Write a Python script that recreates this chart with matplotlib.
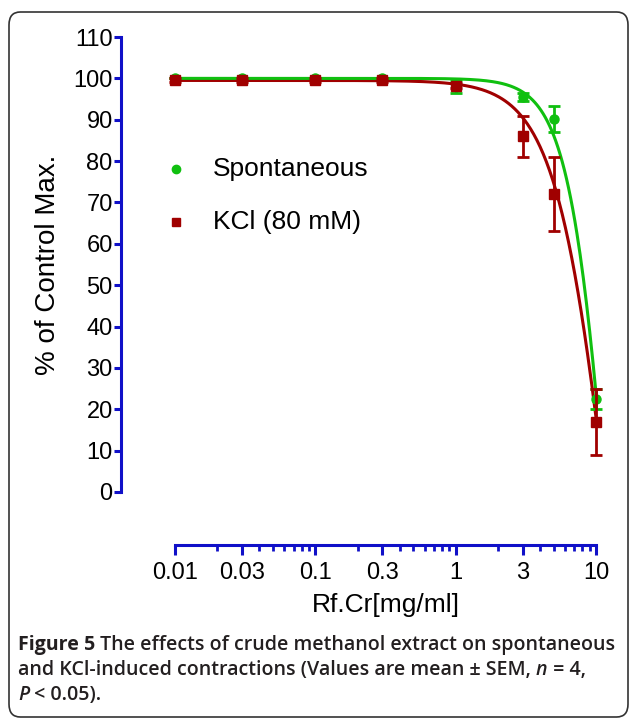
import numpy as np
import matplotlib
matplotlib.use("Agg")
import matplotlib.pyplot as plt
from matplotlib.patches import FancyBboxPatch
from matplotlib.ticker import FixedLocator, FixedFormatter

# ---- data ----
conc = [0.01, 0.03, 0.1, 0.3, 1, 3, 5, 10]
spont_mean = [100.0, 100.0, 100.0, 100.0, 98.0, 95.5, 90.2, 22.5]
spont_sem = [0.0, 0.0, 0.0, 0.0, 1.6, 1.0, 3.2, 2.5]
kcl_mean = [99.6, 99.6, 99.6, 99.6, 98.2, 86.0, 72.0, 17.0]
kcl_sem = [0.5, 0.5, 0.5, 0.5, 0.6, 5.0, 9.0, 8.0]
# fitted sigmoid parameters (top, bottom, IC50, hill)
spont_fit = (100.0, -150.0, 13.3, 2.9)
kcl_fit = (99.5, -150.0, 14.05, 2.13)

xticks = [0.01, 0.03, 0.1, 0.3, 1, 3, 10]
xticklabels = ["0.01", "0.03", "0.1", "0.3", "1", "3", "10"]
xminor = [0.02, 0.04, 0.05, 0.06, 0.07, 0.08, 0.09,
          0.2, 0.4, 0.5, 0.6, 0.7, 0.8, 0.9,
          2, 4, 5, 6, 7, 8, 9]
yticks = list(range(0, 111, 10))

GREEN = "#10c010"
RED = "#a00000"
BLUE = "#1010c8"

W, H = 629, 718
fig = plt.figure(figsize=(W / 100, H / 100), dpi=100)
plt.rcParams["font.family"] = ["Liberation Sans", "DejaVu Sans"]

# rounded frame
frame = FancyBboxPatch((9 / W, 1 - 717 / H), (628 - 9) / W, (717 - 12) / H,
                       boxstyle="round,pad=0,rounding_size=0.018",
                       transform=fig.transFigure, facecolor="none",
                       edgecolor="#333333", linewidth=1.2, clip_on=False)
fig.patches.append(frame)

x0, x1 = 175, 596
y0, y1 = 37, 492
ax = fig.add_axes([x0 / W, 1 - y1 / H, (x1 - x0) / W, (y1 - y0) / H])
ax.set_xscale("log")
ax.set_xlim(0.01, 10)
ax.set_ylim(0, 110)
for s in ["top", "right"]:
    ax.spines[s].set_visible(False)
ax.spines["left"].set_position(("outward", 54 * 0.72))
ax.spines["bottom"].set_position(("outward", 53 * 0.72))
for s in ["left", "bottom"]:
    ax.spines[s].set_color(BLUE)
    ax.spines[s].set_linewidth(2.2)
ax.spines["left"].set_bounds(0, 110)
ax.spines["bottom"].set_bounds(0.01, 10)

ax.yaxis.set_major_locator(FixedLocator(yticks))
ax.set_yticklabels([str(v) for v in yticks])
ax.xaxis.set_major_locator(FixedLocator(xticks))
ax.xaxis.set_major_formatter(FixedFormatter(xticklabels))
ax.xaxis.set_minor_locator(FixedLocator(xminor))
ax.xaxis.set_minor_formatter(FixedFormatter([""] * len(xminor)))
ax.tick_params(axis="y", which="major", length=5, width=2.2, color=BLUE,
               labelsize=17, pad=1)
ax.tick_params(axis="x", which="major", length=7, width=2.2, color=BLUE,
               labelsize=17, pad=5)
ax.tick_params(axis="x", which="minor", length=4, width=2.0, color=BLUE)

ax.set_ylabel("% of Control Max.", fontsize=20, labelpad=9)
ax.set_xlabel("Rf.Cr[mg/ml]", fontsize=19, labelpad=7)


def sig(x, p):
    top, bot, ic50, h = p
    return bot + (top - bot) / (1 + (x / ic50) ** h)


xs = np.logspace(-2, 1, 400)
ax.plot(xs, sig(xs, kcl_fit), color=RED, lw=2.2, zorder=2, clip_on=False)
ax.plot(xs, sig(xs, spont_fit), color=GREEN, lw=2.2, zorder=3, clip_on=False)

e1 = ax.errorbar(conc, spont_mean, yerr=spont_sem, fmt="o", color=GREEN,
                 ms=6.5, elinewidth=2.0, capsize=4.5, capthick=2.0, zorder=4,
                 clip_on=False)
e2 = ax.errorbar(conc, kcl_mean, yerr=kcl_sem, fmt="s", color=RED,
                 ms=6.5, elinewidth=2.0, capsize=4.5, capthick=2.0, zorder=5,
                 clip_on=False)
for e in (e1, e2):
    for c in e[1]:
        c.set_clip_on(False)
    for c in e[2]:
        c.set_clip_on(False)

# legend (manual, to match position)
fig.lines.append(plt.Line2D([176 / W], [1 - 169 / H], marker="o", ls="none",
                            color=GREEN, ms=6, transform=fig.transFigure))
fig.lines.append(plt.Line2D([176 / W], [1 - 222 / H], marker="s", ls="none",
                            color=RED, ms=6, transform=fig.transFigure))
fig.text(213 / W, 1 - 169 / H, "Spontaneous", fontsize=19, va="center",
         ha="left")
fig.text(213 / W, 1 - 222 / H, "KCl (80 mM)", fontsize=19, va="center",
         ha="left")

# caption
cap_font = ["Open Sans", "DejaVu Sans"]
csize = 14.1
ccol = "#231f20"
lines = [
    [("Figure 5", "bold", "normal"),
     (" The effects of crude methanol extract on spontaneous", "semibold", "normal")],
    [("and KCl-induced contractions (Values are mean \u00b1 SEM, ", "semibold", "normal"),
     ("n", "semibold", "italic"), (" = 4,", "semibold", "normal")],
    [("P", "semibold", "italic"), (" < 0.05).", "semibold", "normal")],
]
fig.canvas.draw()
r = fig.canvas.get_renderer()
ys = [645, 670, 695]
for line, yy in zip(lines, ys):
    xx = 18
    for txt, wt, st in line:
        t = fig.text(xx / W, 1 - yy / H, txt, fontsize=csize, fontweight=wt,
                     fontstyle=st, family=cap_font, color=ccol, va="center",
                     ha="left")
        bb = t.get_window_extent(renderer=r)
        xx += bb.width

fig.savefig("out.png", dpi=100)
